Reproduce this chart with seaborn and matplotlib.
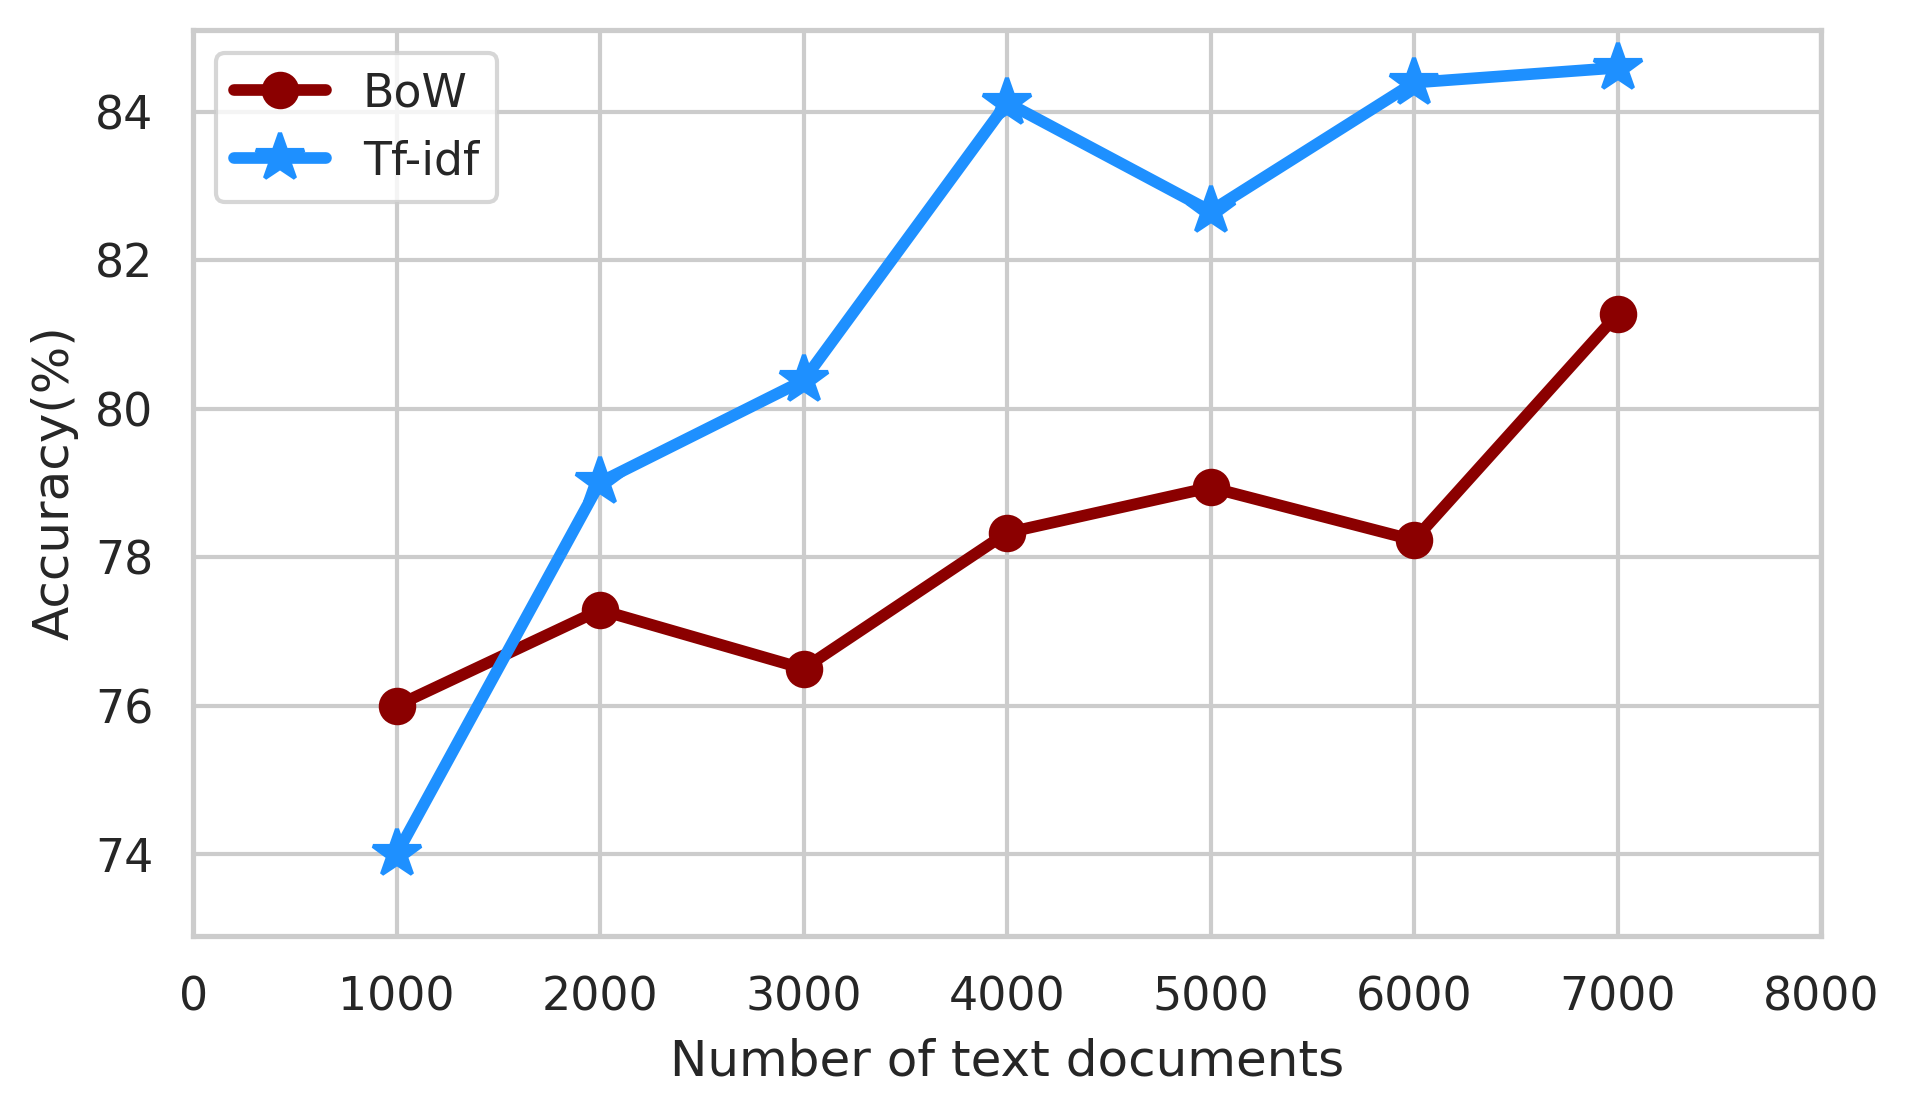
import pandas as pd
import matplotlib
matplotlib.use("Agg")
import matplotlib.pyplot as plt
import seaborn as sns

docs = [1000, 2000, 3000, 4000, 5000, 6000, 7000]
bow = [76.0, 77.29, 76.5, 78.33, 78.94, 78.23, 81.27]
tfidf = [74.0, 79.01, 80.38, 84.12, 82.66, 84.39, 84.59]

sns.set_theme(style="whitegrid")

df_bow = pd.DataFrame({"docs": docs, "acc": bow})
df_tfidf = pd.DataFrame({"docs": docs, "acc": tfidf})

fig, ax = plt.subplots(figsize=(6.36, 3.717), dpi=300)
fig.subplots_adjust(left=0.1012, right=0.9544, top=0.9731, bottom=0.1605)

sns.lineplot(data=df_bow, x="docs", y="acc", ax=ax, color="darkred", linewidth=2.8,
             marker="o", markersize=8, markeredgecolor="darkred", markeredgewidth=1, label="BoW")
sns.lineplot(data=df_tfidf, x="docs", y="acc", ax=ax, color="dodgerblue", linewidth=2.8,
             marker="*", markersize=12, markeredgecolor="dodgerblue", markeredgewidth=1, label="Tf-idf")

ax.set_xlim(0, 8000)
ax.set_ylim(72.9, 85.1)
ax.set_xticks(range(0, 8001, 1000))
ax.set_yticks(range(74, 85, 2))
ax.set_xlabel("Number of text documents")
ax.set_ylabel("Accuracy(%)")
ax.legend(loc="upper left")

fig.savefig("out.png", dpi=300)
